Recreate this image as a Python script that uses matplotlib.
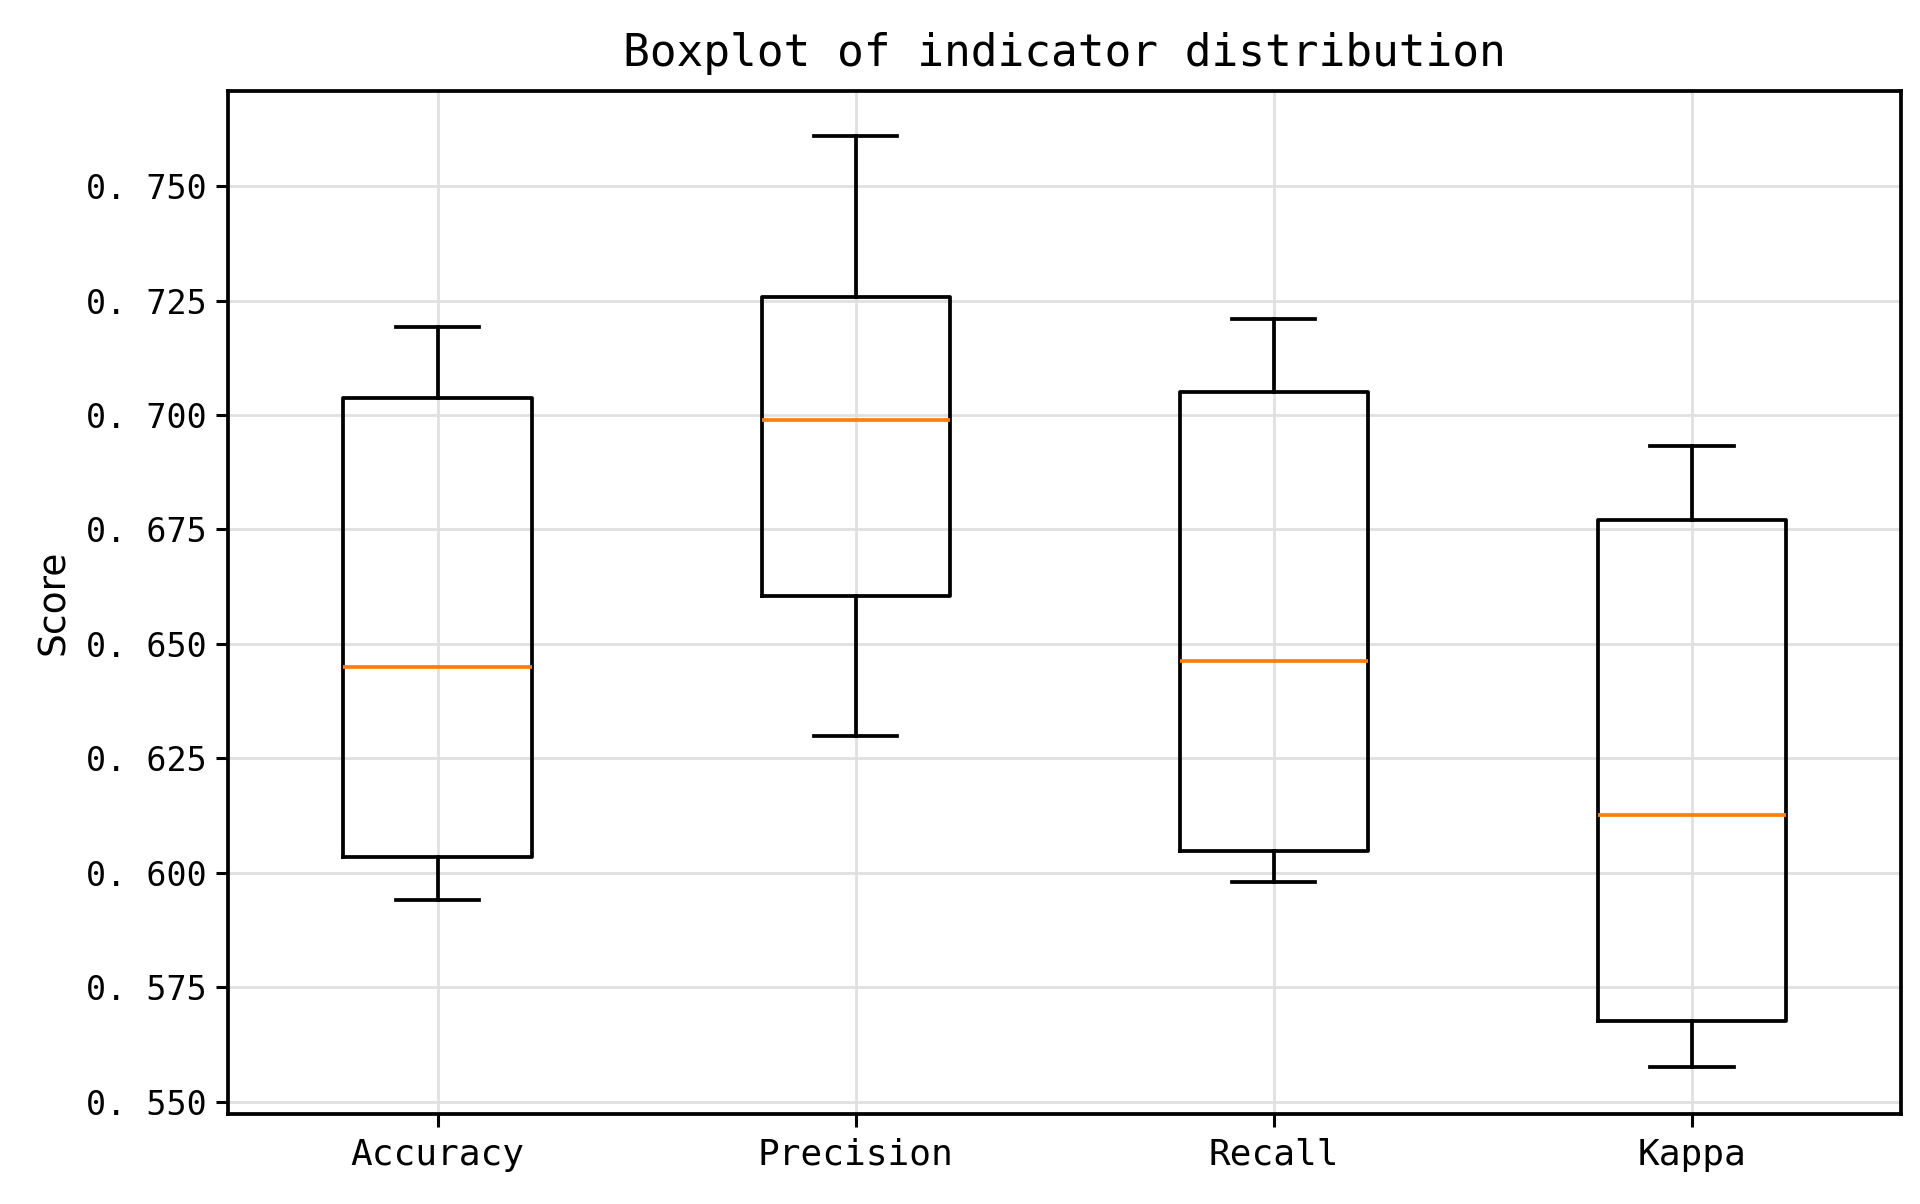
import matplotlib
matplotlib.use('Agg')
import matplotlib.pyplot as plt

labels = ['Accuracy', 'Precision', 'Recall', 'Kappa']
whislo = [0.5941, 0.6299, 0.5979, 0.5575]
q1 = [0.6035, 0.6604, 0.6048, 0.5677]
med = [0.6449, 0.6989, 0.6463, 0.6126]
q3 = [0.7037, 0.7257, 0.7051, 0.6770]
whishi = [0.7193, 0.7610, 0.7209, 0.6933]

stats = []
for i in range(len(labels)):
    stats.append({'label': labels[i], 'whislo': whislo[i], 'q1': q1[i],
                  'med': med[i], 'q3': q3[i], 'whishi': whishi[i], 'fliers': []})

fig = plt.figure(figsize=(19.2, 12.04), dpi=100)
ax = fig.add_axes([0.119, 0.0748, 0.871, 0.850])

lw = 2.7
ax.bxp(stats, widths=0.45, capwidths=0.2,
       boxprops=dict(color='black', linewidth=lw),
       whiskerprops=dict(color='black', linewidth=lw),
       capprops=dict(color='black', linewidth=lw),
       medianprops=dict(color='#ff7f0e', linewidth=lw))

ax.set_xlim(0.5, 4.5)
ax.set_ylim(0.5473, 0.7709)
ax.set_yticks([0.55, 0.575, 0.6, 0.625, 0.65, 0.675, 0.7, 0.725, 0.75])
ax.set_yticklabels(['0. 550', '0. 575', '0. 600', '0. 625', '0. 650',
                    '0. 675', '0. 700', '0. 725', '0. 750'],
                   family='DejaVu Sans Mono', fontsize=24)
ax.set_xticklabels(labels, family='DejaVu Sans Mono', fontsize=26)
ax.tick_params(axis='both', length=9, width=2.2)
ax.tick_params(axis='y', pad=7)
ax.tick_params(axis='x', pad=8)

ax.grid(True, color='#e0e0e0', linewidth=2.0)
ax.set_axisbelow(True)
for s in ax.spines.values():
    s.set_linewidth(2.7)

ax.set_ylabel('Score', fontsize=27, labelpad=10)
ax.set_title('Boxplot of indicator distribution', family='DejaVu Sans Mono',
             fontsize=32, pad=18)

fig.savefig('out.png', dpi=100)
